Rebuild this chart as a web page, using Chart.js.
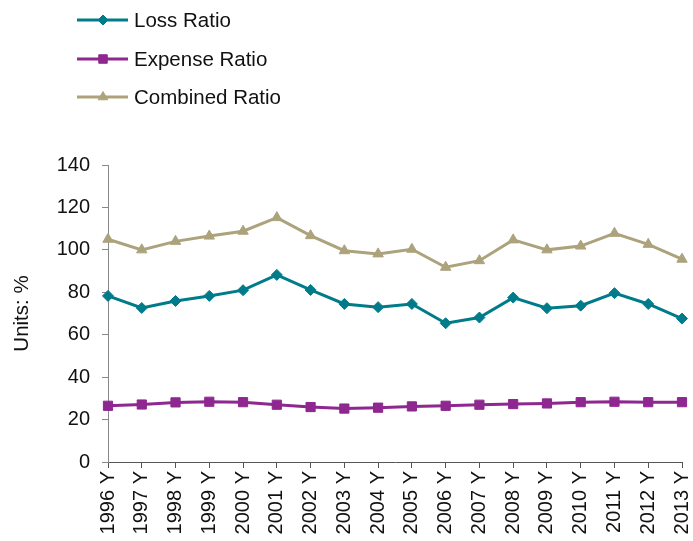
<!DOCTYPE html>
<html>
<head>
<meta charset="utf-8">
<script src="https://cdn.jsdelivr.net/npm/chart.js@4/dist/chart.umd.min.js"></script>
<style>
  html, body { margin: 0; padding: 0; background: #fff; }
  #wrap { width: 693px; height: 541px; }
</style>
</head>
<body>
<div id="wrap"><canvas id="ratioChart" width="693" height="541"></canvas></div>
<script>
const years = ["1996 Y", "1997 Y", "1998 Y", "1999 Y", "2000 Y", "2001 Y", "2002 Y", "2003 Y", "2004 Y",
  "2005 Y", "2006 Y", "2007 Y", "2008 Y", "2009 Y", "2010 Y", "2011 Y", "2012 Y", "2013 Y"];
const lossRatio = [78.3, 72.6, 75.9, 78.3, 81.0, 88.2, 81.1, 74.5, 73.0, 74.5, 65.4, 68.1, 77.5, 72.5, 73.7, 79.6, 74.5, 67.6];
const expenseRatio = [26.5, 27.1, 28.1, 28.4, 28.2, 27.0, 25.9, 25.2, 25.6, 26.2, 26.5, 27.0, 27.3, 27.6, 28.2, 28.4, 28.2, 28.2];
const combinedRatio = [105.0, 100.0, 104.0, 106.5, 108.8, 115.2, 106.7, 99.6, 98.1, 100.3, 91.8, 94.9, 104.7, 100.0, 101.8, 107.8, 102.6, 95.6];
const yTicks = [0, 20, 40, 60, 80, 100, 120, 140];

const FONT = "'Liberation Sans', Arial, sans-serif";

// legend stacked vertically in the top-left corner
const stackedLegend = {
  id: "stackedLegend",
  afterDraw(chart) {
    const ctx = chart.ctx;
    const rows = [20, 59, 97];
    ctx.save();
    chart.data.datasets.forEach((ds, i) => {
      const y = rows[i];
      ctx.strokeStyle = ds.borderColor;
      ctx.lineWidth = ds.borderWidth;
      ctx.beginPath();
      ctx.moveTo(77, y);
      ctx.lineTo(128, y);
      ctx.stroke();
      ctx.fillStyle = ds.pointBackgroundColor;
      ctx.strokeStyle = ds.pointBorderColor;
      ctx.lineWidth = 1;
      Chart.helpers.drawPoint(ctx, { pointStyle: ds.pointStyle, radius: ds.pointRadius - 0.5, rotation: 0, borderWidth: 1 }, 103, y);
      ctx.fillStyle = "#111";
      ctx.font = "20.5px " + FONT;
      ctx.textAlign = "left";
      ctx.textBaseline = "middle";
      ctx.fillText(ds.label, 134, y + 1);
    });
    ctx.restore();
  }
};

new Chart(document.getElementById("ratioChart"), {
  type: "line",
  data: {
    labels: years,
    datasets: [
      { label: "Loss Ratio", data: lossRatio, borderColor: "#007B8A", borderWidth: 3,
        pointStyle: "rectRot", pointRadius: 5.5, pointBackgroundColor: "#007B8A", pointBorderColor: "#007B8A", pointBorderWidth: 1 },
      { label: "Expense Ratio", data: expenseRatio, borderColor: "#8E278F", borderWidth: 3,
        pointStyle: "rect", pointRadius: 6.5, pointBackgroundColor: "#8E278F", pointBorderColor: "#8E278F", pointBorderWidth: 1 },
      { label: "Combined Ratio", data: combinedRatio, borderColor: "#ACA37C", borderWidth: 3,
        pointStyle: "triangle", pointRadius: 6, pointBackgroundColor: "#ACA37C", pointBorderColor: "#ACA37C", pointBorderWidth: 1 }
    ]
  },
  options: {
    responsive: false,
    animation: false,
    layout: { padding: { top: 165, right: 11, left: 0, bottom: 0 } },
    plugins: { legend: { display: false }, tooltip: { enabled: false } },
    scales: {
      x: {
        afterFit: s => { s.height = 79; s.paddingLeft = 0; s.paddingRight = 0; },
        grid: { display: true, drawOnChartArea: false, drawTicks: true, tickLength: 6, color: "#555" },
        border: { display: true, color: "#555", width: 1 },
        ticks: { minRotation: 90, maxRotation: 90, autoSkip: false, padding: 3, color: "#111", font: { family: FONT, size: 20 } }
      },
      y: {
        min: 0, max: 140,
        afterFit: s => { s.width = 108; s.paddingTop = 0; s.paddingBottom = 0; },
        afterBuildTicks: s => { s.ticks = yTicks.map(v => ({ value: v })); },
        grid: { display: true, drawOnChartArea: false, drawTicks: true, tickLength: 6, color: "#888" },
        border: { display: true, color: "#888", width: 1 },
        ticks: { padding: 12, color: "#111", font: { family: FONT, size: 20 } },
        title: { display: true, text: "Units: %", color: "#111", padding: { top: 10, bottom: 0 }, font: { family: FONT, size: 20.5 } }
      }
    }
  },
  plugins: [stackedLegend]
});
</script>
</body>
</html>
